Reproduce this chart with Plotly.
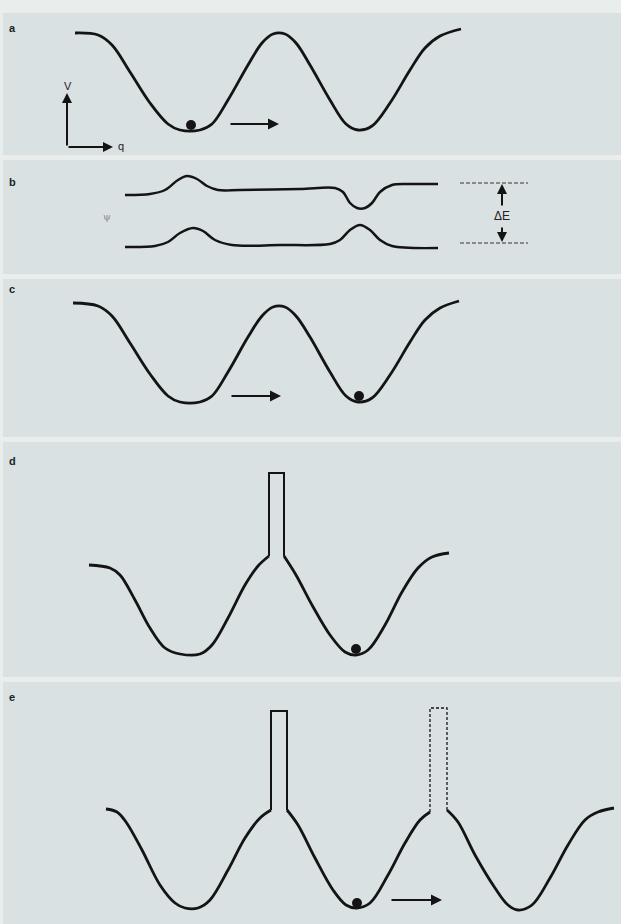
import plotly.graph_objects as go

# ---------------- data (q = horizontal coordinate, V = vertical, screen units) -------------
panel_labels = ["a", "b", "c", "d", "e"]
label_q = [12, 12, 12, 12, 12]
label_V = [28, 182, 289, 461, 697]

# panel bands (top, bottom)
band_top = [13, 160, 279, 442, 682]
band_bottom = [155, 274, 437, 677, 924]

# panel a: double-well potential
q_a = [75, 98, 112, 130, 150, 168, 180, 200, 212, 228, 248, 262, 273, 285, 296, 310, 330, 346, 358, 372, 390, 410, 425, 440, 461]
V_a = [33, 35, 45, 72, 103, 124, 130, 130, 124, 100, 65, 43, 34, 34, 43, 65, 100, 124, 130, 126, 103, 70, 48, 36, 29]
ball_a = (191, 125)
arrow_a = (229, 279, 124)

# panel b: wavefunctions
q_b_top = [125, 150, 165, 178, 187, 197, 207, 218, 240, 300, 335, 343, 350, 357, 365, 372, 380, 392, 410, 438]
V_b_top = [195, 194, 190, 180, 176, 179, 186, 190, 190, 189, 188, 192, 203, 208, 208, 203, 192, 185, 184, 184]
q_b_bot = [125, 155, 168, 180, 193, 203, 215, 232, 280, 330, 340, 350, 360, 370, 380, 392, 438]
V_b_bot = [247, 246, 242, 233, 228, 231, 240, 245, 245, 244, 240, 230, 225, 230, 240, 246, 248]
dE_levels = [183, 243]
dE_q = [460, 528]

# panel c
q_c = [73, 98, 112, 130, 150, 168, 180, 200, 212, 228, 248, 262, 273, 285, 296, 310, 330, 346, 358, 372, 390, 410, 425, 440, 459]
V_c = [303, 306, 316, 343, 374, 396, 402, 402, 396, 372, 337, 316, 307, 307, 316, 337, 372, 396, 402, 398, 375, 342, 320, 308, 301]
ball_c = (359, 396)
arrow_c = (230, 281, 396)

# panel d: potential with a tube on the barrier
q_d_left = [89, 110, 120, 135, 150, 165, 180, 200, 212, 228, 245, 258, 269]
V_d_left = [565, 568, 575, 600, 628, 648, 654, 654, 645, 618, 585, 566, 556]
q_d_tube = [269, 269, 284, 284]
V_d_tube = [556, 473, 473, 556]
q_d_right = [284, 296, 312, 330, 345, 356, 368, 385, 402, 418, 432, 449]
V_d_right = [556, 575, 605, 635, 652, 655, 650, 625, 592, 568, 557, 553]
ball_d = (356, 649)

# panel e
q_e_left = [106, 117, 126, 142, 160, 175, 185, 198, 210, 228, 245, 260, 271]
V_e_left = [809, 812, 822, 850, 885, 903, 908, 908, 900, 870, 838, 818, 810]
q_e_tube1 = [271, 271, 287, 287]
V_e_tube1 = [810, 711, 711, 810]
q_e_mid = [287, 298, 315, 333, 346, 357, 370, 388, 405, 420, 430]
V_e_mid = [810, 825, 858, 890, 905, 908, 903, 875, 843, 820, 812]
q_e_tube2 = [430, 430, 447, 447]
V_e_tube2 = [812, 708, 708, 810]
q_e_right = [447, 458, 475, 495, 508, 518, 532, 550, 568, 585, 598, 614]
V_e_right = [810, 822, 855, 888, 905, 910, 905, 878, 845, 820, 812, 808]
ball_e = (357, 903)
arrow_e = (390, 442, 900)

# ---------------- styling ----------------
BG = "#d9e1e3"
SEP = "#e9edec"
INK = "#141414"

fig = go.Figure()

def curve(q, V, width=2.8, shape="spline", dash="solid"):
    fig.add_trace(go.Scatter(x=q, y=V, mode="lines",
                             line=dict(color=INK, width=width, shape=shape, smoothing=1.0, dash=dash),
                             hoverinfo="skip", showlegend=False))

curve(q_a, V_a)
curve(q_b_top, V_b_top, width=2.5)
curve(q_b_bot, V_b_bot, width=2.5)
curve(q_c, V_c)
curve(q_d_left, V_d_left)
curve(q_d_tube, V_d_tube, width=2, shape="linear")
curve(q_d_right, V_d_right)
curve(q_e_left, V_e_left)
curve(q_e_tube1, V_e_tube1, width=2, shape="linear")
curve(q_e_mid, V_e_mid)
curve(q_e_tube2, V_e_tube2, width=1.3, shape="linear", dash="3px,2px")
curve(q_e_right, V_e_right)

# Delta E dashed levels
for lv in dE_levels:
    fig.add_trace(go.Scatter(x=dE_q, y=[lv, lv], mode="lines",
                             line=dict(color="#333", width=1, dash="4px,2px"),
                             hoverinfo="skip", showlegend=False))

# balls
balls = [ball_a, ball_c, ball_d, ball_e]
fig.add_trace(go.Scatter(x=[b[0] for b in balls], y=[b[1] for b in balls], mode="markers",
                         marker=dict(color=INK, size=10), hoverinfo="skip", showlegend=False))

anns = []
def arrow(x0, y0, x1, y1, width=2, size=1.1, head=2):
    anns.append(dict(x=x1, y=y1, ax=x0, ay=y0, xref="x", yref="y", axref="x", ayref="y",
                     showarrow=True, arrowhead=head, arrowsize=size, arrowwidth=width,
                     arrowcolor=INK, text="", standoff=0, startstandoff=0))

for ar in (arrow_a, arrow_c, arrow_e):
    arrow(ar[0], ar[2], ar[1], ar[2])

# V-q axes in panel a
arrow(67, 147, 67, 93, width=2, size=1.0)
arrow(67, 147, 113, 147, width=2, size=1.0)
anns.append(dict(x=68, y=86, xref="x", yref="y", text="V", showarrow=False,
                 font=dict(family="Arial", size=11, color="#222")))
anns.append(dict(x=121, y=146, xref="x", yref="y", text="q", showarrow=False,
                 font=dict(family="Arial", size=11, color="#222")))

# Delta E arrows + text
arrow(502, 207, 502, dE_levels[0] + 1, width=2, size=1.0)
arrow(502, 226, 502, dE_levels[1] - 1, width=2, size=1.0)
anns.append(dict(x=502, y=216, xref="x", yref="y", text="ΔE", showarrow=False,
                 font=dict(family="Arial", size=12, color="#222")))
anns.append(dict(x=107, y=216, xref="x", yref="y", text="ψ", showarrow=False,
                 font=dict(family="DejaVu Serif", size=10, color="#8a8a8a")))

# panel letters
for lab, lq, lv in zip(panel_labels, label_q, label_V):
    anns.append(dict(x=lq, y=lv, xref="x", yref="y", text="<b>%s</b>" % lab, showarrow=False,
                     xanchor="center", font=dict(family="Arial", size=11, color="#222")))

shapes = []
for t, b in zip(band_top, band_bottom):
    shapes.append(dict(type="rect", xref="x", yref="y", x0=3, x1=621, y0=t, y1=b,
                       fillcolor=BG, line=dict(width=0), layer="below"))

fig.update_layout(
    width=621, height=924, margin=dict(l=0, r=0, t=0, b=0),
    paper_bgcolor=SEP, plot_bgcolor=SEP,
    xaxis=dict(range=[0, 621], visible=False, fixedrange=True),
    yaxis=dict(range=[924, 0], visible=False, fixedrange=True),
    shapes=shapes, annotations=anns, showlegend=False,
)

fig.write_html("out.html", config={"displayModeBar": False, "staticPlot": True},
               post_script="document.body.style.margin='0';document.body.style.padding='0';"
                           "document.documentElement.style.overflow='hidden';")
